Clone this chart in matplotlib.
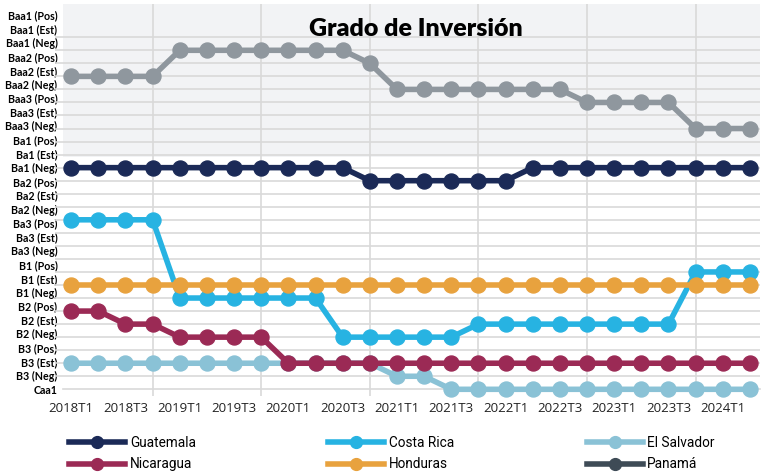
import numpy as np
import matplotlib.pyplot as plt
from matplotlib.lines import Line2D

# rating scale, lowest first (Caa1 = 0)
ratings = ["Caa1", "B3 (Neg)", "B3 (Est)", "B3 (Pos)", "B2 (Neg)", "B2 (Est)", "B2 (Pos)",
           "B1 (Neg)", "B1 (Est)", "B1 (Pos)", "Ba3 (Neg)", "Ba3 (Est)", "Ba3 (Pos)",
           "Ba2 (Neg)", "Ba2 (Est)", "Ba2 (Pos)", "Ba1 (Neg)", "Ba1 (Est)", "Ba1 (Pos)",
           "Baa3 (Neg)", "Baa3 (Est)", "Baa3 (Pos)", "Baa2 (Neg)", "Baa2 (Est)", "Baa2 (Pos)",
           "Baa1 (Neg)", "Baa1 (Est)", "Baa1 (Pos)"]

quarters = [f"{y}T{q}" for y in range(2018, 2025) for q in range(1, 5)][:26]

countries = ["Guatemala", "Costa Rica", "El Salvador", "Nicaragua", "Honduras", "Panamá"]

guatemala = [17] * 11 + [16] * 6 + [17] * 9
costa_rica = [13] * 4 + [7] * 6 + [4] * 5 + [5] * 8 + [9] * 3
el_salvador = [2] * 12 + [1] * 2 + [0] * 12
nicaragua = [6, 6, 5, 5, 4, 4, 4, 4] + [2] * 18
honduras = [8] * 26
panama = [24] * 4 + [26] * 7 + [25] + [23] * 7 + [22] * 4 + [20] * 3

series = [guatemala, costa_rica, el_salvador, nicaragua, honduras, panama]
colors = ["#1b2a57", "#27b3e2", "#8ac2d6", "#9b2a55", "#e8a23e", "#8f979e"]
legend_colors = ["#1b2a57", "#27b3e2", "#8ac2d6", "#9b2a55", "#e8a23e", "#3e4b56"]

fig = plt.figure(figsize=(7.62, 4.72), dpi=100)
ax = fig.add_axes([0.0827, 0.1752, 0.9143, 0.8163])

x = np.arange(len(quarters))
ytop = 29.55
ax.set_xlim(-0.3, 25.36)
ax.set_ylim(0, ytop)

# shaded investment-grade band
ax.axhspan(17.8, ytop, color="#f2f3f5", zorder=0, lw=0)

for vals, c in zip(series, colors):
    ax.plot(x, vals, color=c, lw=4.0, marker="o", ms=10.8, solid_capstyle="round",
            zorder=3, clip_on=False)

# gridlines on every rating step, labels spaced a bit wider
ax.set_yticks(np.arange(len(ratings)), minor=True)
ax.set_yticks(np.arange(len(ratings)) * 1.0637)
ax.set_yticklabels(ratings, fontsize=7.7, fontweight="bold", family="Lato")
ax.grid(True, which="minor", axis="y", color="#d9d9d9", lw=1.2, zorder=1)
ax.tick_params(axis="y", which="major", length=0, pad=4)
ax.tick_params(axis="y", which="minor", length=6, color="#d9d9d9", width=1.2)

ax.set_xticks(x[::2])
ax.set_xticklabels(quarters[::2], fontsize=9.5, family="Open Sans")
ax.set_xticks(x[3::4], minor=True)
ax.grid(True, which="minor", axis="x", color="#d9d9d9", lw=1.2, zorder=1)
ax.tick_params(axis="x", which="major", length=0, pad=9, colors="#222222")
ax.tick_params(axis="x", which="minor", length=5, color="#d9d9d9", width=1.2)

for s in ["top", "right", "left"]:
    ax.spines[s].set_visible(False)
ax.spines["bottom"].set_color("#d9d9d9")
ax.spines["bottom"].set_linewidth(1.2)

fig.text(0.546, 0.9386, "Grado de Inversión", ha="center", va="center",
         fontsize=18, fontweight="heavy", family="Lato")

# legend: three columns of two entries each
handles = [Line2D([], [], color=c, lw=4.0, marker="o", ms=8.5) for c in legend_colors]
col_x = [0.091, 0.431, 0.77]
for k in range(3):
    fig.legend([handles[k], handles[k + 3]], [countries[k], countries[k + 3]],
               loc="upper left", bbox_to_anchor=(col_x[k], 0.0765), ncol=1,
               frameon=False, handlelength=4.1, handletextpad=0.35, labelspacing=0.55,
               borderpad=0, borderaxespad=0, prop={"family": "Roboto", "size": 9.8})

fig.savefig("out.png", dpi=100)
